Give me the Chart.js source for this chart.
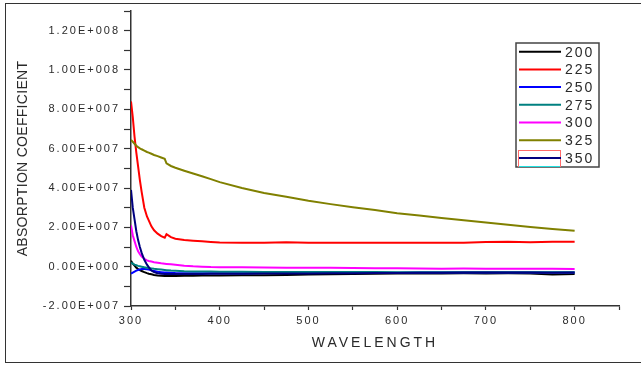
<!DOCTYPE html>
<html>
<head>
<meta charset="utf-8">
<script src="https://cdn.jsdelivr.net/npm/chart.js@4"></script>
<style>
  html, body { margin: 0; padding: 0; background: #fff; overflow: hidden; }
  #frame { position: absolute; left: 5px; top: 3px; width: 700px; height: 358px;
           border-left: 1.5px solid #333; border-top: 1.5px solid #333; border-bottom: 1.5px solid #333; }
  #wrap { position: absolute; left: 0; top: 0; width: 641px; height: 365px; }
</style>
</head>
<body>
<div id="frame"></div>
<div id="wrap"><canvas id="chart"></canvas></div>
<script>
// wavelength (nm)
const wavelength = [300, 302, 304, 306, 308, 310, 312, 315, 318, 320, 323, 326, 330, 334, 338, 340, 345, 350,
  360, 370, 380, 390, 400, 425, 450, 475, 500, 525, 550, 575, 600, 625, 650, 675, 700, 725, 750, 775, 800];

// absorption coefficient, units of 1E7
const s200 = [0.30, 0.15, 0.05, -0.05, -0.12, -0.18, -0.22, -0.28, -0.33, -0.36, -0.39, -0.42, -0.45, -0.46, -0.47, -0.47, -0.47, -0.47,
  -0.46, -0.46, -0.45, -0.45, -0.45, -0.44, -0.44, -0.42, -0.40, -0.38, -0.37, -0.36, -0.35, -0.35, -0.35, -0.34, -0.35, -0.34, -0.35, -0.40, -0.37];
const s225 = [8.40, 7.60, 6.60, 5.80, 5.10, 4.40, 3.80, 3.00, 2.55, 2.35, 2.05, 1.85, 1.68, 1.55, 1.47, 1.65, 1.50, 1.42,
  1.36, 1.32, 1.29, 1.26, 1.23, 1.22, 1.22, 1.24, 1.22, 1.22, 1.22, 1.22, 1.22, 1.22, 1.22, 1.22, 1.25, 1.27, 1.24, 1.27, 1.27];
const s250 = [-0.35, -0.30, -0.25, -0.20, -0.17, -0.14, -0.12, -0.12, -0.13, -0.15, -0.19, -0.22, -0.26, -0.28, -0.30, -0.30, -0.31, -0.32,
  -0.33, -0.33, -0.33, -0.33, -0.33, -0.33, -0.32, -0.32, -0.32, -0.32, -0.31, -0.31, -0.31, -0.30, -0.30, -0.30, -0.30, -0.30, -0.30, -0.30, -0.30];
const s275 = [0.20, 0.15, 0.10, 0.07, 0.04, 0.02, 0.00, -0.03, -0.05, -0.07, -0.09, -0.11, -0.13, -0.15, -0.17, -0.18, -0.20, -0.21,
  -0.23, -0.24, -0.25, -0.25, -0.26, -0.26, -0.27, -0.27, -0.27, -0.27, -0.27, -0.27, -0.28, -0.28, -0.28, -0.28, -0.28, -0.28, -0.28, -0.28, -0.28];
const s300 = [2.10, 1.60, 1.30, 1.00, 0.78, 0.63, 0.52, 0.40, 0.32, 0.29, 0.26, 0.23, 0.20, 0.17, 0.15, 0.14, 0.12, 0.10,
  0.05, 0.02, 0.00, -0.02, -0.03, -0.03, -0.04, -0.05, -0.05, -0.06, -0.07, -0.08, -0.08, -0.09, -0.10, -0.09, -0.10, -0.10, -0.11, -0.11, -0.12];
const s325 = [6.45, 6.35, 6.25, 6.15, 6.08, 6.02, 5.97, 5.90, 5.83, 5.80, 5.74, 5.68, 5.62, 5.55, 5.48, 5.25, 5.12, 5.03,
  4.88, 4.74, 4.60, 4.45, 4.30, 4.00, 3.75, 3.55, 3.35, 3.18, 3.02, 2.88, 2.72, 2.60, 2.48, 2.36, 2.25, 2.13, 2.02, 1.92, 1.83];
const s350 = [3.90, 3.00, 2.40, 1.80, 1.35, 1.00, 0.70, 0.35, 0.10, -0.02, -0.20, -0.28, -0.33, -0.36, -0.37, -0.37, -0.37, -0.37,
  -0.37, -0.37, -0.37, -0.36, -0.36, -0.36, -0.35, -0.35, -0.35, -0.34, -0.33, -0.32, -0.32, -0.31, -0.31, -0.30, -0.30, -0.30, -0.30, -0.31, -0.30];

const seriesNames = ['200', '225', '250', '275', '300', '325', '350'];
const seriesValues = [s200, s225, s250, s275, s300, s325, s350];
const seriesColors = ['#000000', '#ff0000', '#0000ff', '#008080', '#ff00ff', '#808000', '#000080'];

const TEXT = '#2a2a2a';
const AXIS = '#333333';

function sciLabel(v) {
  if (Math.abs(v) < 1) return '0.00E+000';
  const e = Math.floor(Math.log10(Math.abs(v)) + 1e-9);
  const m = v / Math.pow(10, e);
  return m.toFixed(2) + 'E+' + String(e).padStart(3, '0');
}

const datasets = seriesNames.map((name, i) => ({
  label: name,
  data: wavelength.map((w, j) => ({ x: w, y: seriesValues[i][j] * 1e7 })),
  borderColor: seriesColors[i],
  backgroundColor: seriesColors[i],
  borderWidth: 2,
  pointRadius: 0,
  tension: 0,
  order: seriesNames.length - i
}));

// letter spacing on the canvas text, like the wide lettering in the original
const spacing = {
  id: 'spacing',
  beforeLayout(chart) { chart.ctx.letterSpacing = '2px'; },
  beforeDraw(chart) { chart.ctx.letterSpacing = '2px'; },
  afterLayout(chart) {
    const y = chart.scales.y;
    if (y && !y._patched) {
      const orig = y.drawTitle;
      y.drawTitle = function () {
        this.ctx.save();
        this.ctx.letterSpacing = '0.3px';
        orig.call(this);
        this.ctx.restore();
      };
      y._patched = true;
    }
    const x = chart.scales.x;
    if (x && !x._patched) {
      const origX = x.drawTitle;
      x.drawTitle = function () {
        this.ctx.save();
        this.ctx.letterSpacing = '3px';
        origX.call(this);
        this.ctx.restore();
      };
      x._patched = true;
    }
  }
};

// boxed legend inside the plot, top right
const boxLegend = {
  id: 'boxLegend',
  afterDraw(chart) {
    const ctx = chart.ctx;
    ctx.save();
    ctx.strokeStyle = '#444';
    ctx.lineWidth = 1.5;
    ctx.strokeRect(516, 43, 83, 124);
    ctx.font = '14px "Liberation Sans", Arial, sans-serif';
    ctx.letterSpacing = '2px';
    ctx.textBaseline = 'middle';
    chart.data.datasets.forEach((ds, i) => {
      const yy = 51.7 + i * 17.7;
      if (i === chart.data.datasets.length - 1) {
        ctx.strokeStyle = '#ff6a6a';
        ctx.lineWidth = 1;
        ctx.strokeRect(518.5, 150.5, 42, 16);
        ctx.strokeStyle = '#22e0e0';
        ctx.beginPath(); ctx.moveTo(519, 166.5); ctx.lineTo(560, 166.5); ctx.stroke();
      }
      ctx.strokeStyle = ds.borderColor;
      ctx.lineWidth = 2;
      ctx.beginPath(); ctx.moveTo(519, yy); ctx.lineTo(561, yy); ctx.stroke();
      ctx.fillStyle = TEXT;
      ctx.fillText(ds.label, 565, yy + 1);
    });
    ctx.restore();
  }
};

new Chart(document.getElementById('chart'), {
  type: 'line',
  data: { datasets: datasets },
  plugins: [spacing, boxLegend],
  options: {
    responsive: true,
    maintainAspectRatio: false,
    animation: false,
    layout: { padding: { left: 0, right: 22, top: 11, bottom: 0 } },
    plugins: { legend: { display: false }, tooltip: { enabled: false } },
    scales: {
      x: {
        type: 'linear',
        min: 300, max: 850,
        afterFit(s) { s.height = 59; },
        border: { display: true, color: AXIS, width: 1.5 },
        grid: { drawOnChartArea: false, tickLength: 4, color: AXIS, tickWidth: 1.2 },
        ticks: {
          stepSize: 50, maxRotation: 0, autoSkip: false, padding: 4,
          color: TEXT,
          font: { family: '"Liberation Sans", Arial, sans-serif', size: 11 },
          callback: v => (v % 100 === 0 && v <= 800) ? String(v) : ''
        },
        title: {
          display: true, text: 'WAVELENGTH', color: TEXT,
          font: { family: '"Liberation Sans", Arial, sans-serif', size: 14 },
          padding: { top: 0, bottom: 13 }
        }
      },
      y: {
        type: 'linear',
        min: -2e7, max: 1.3e8,
        afterFit(s) { s.width = 131; },
        border: { display: true, color: AXIS, width: 1.5 },
        grid: { drawOnChartArea: false, tickLength: 7, color: AXIS, tickWidth: 1.2 },
        ticks: {
          stepSize: 1e7, autoSkip: false, padding: 4,
          color: TEXT,
          font: { family: '"Liberation Sans", Arial, sans-serif', size: 11 },
          callback: v => (Math.round(v / 1e7) % 2 === 0 && v <= 1.2e8) ? sciLabel(v) : ''
        },
        title: {
          display: true, text: 'ABSORPTION COEFFICIENT', color: TEXT,
          font: { family: '"Liberation Sans", Arial, sans-serif', size: 14 },
          padding: { top: 15, bottom: 0 }
        }
      }
    }
  }
});
</script>
</body>
</html>
